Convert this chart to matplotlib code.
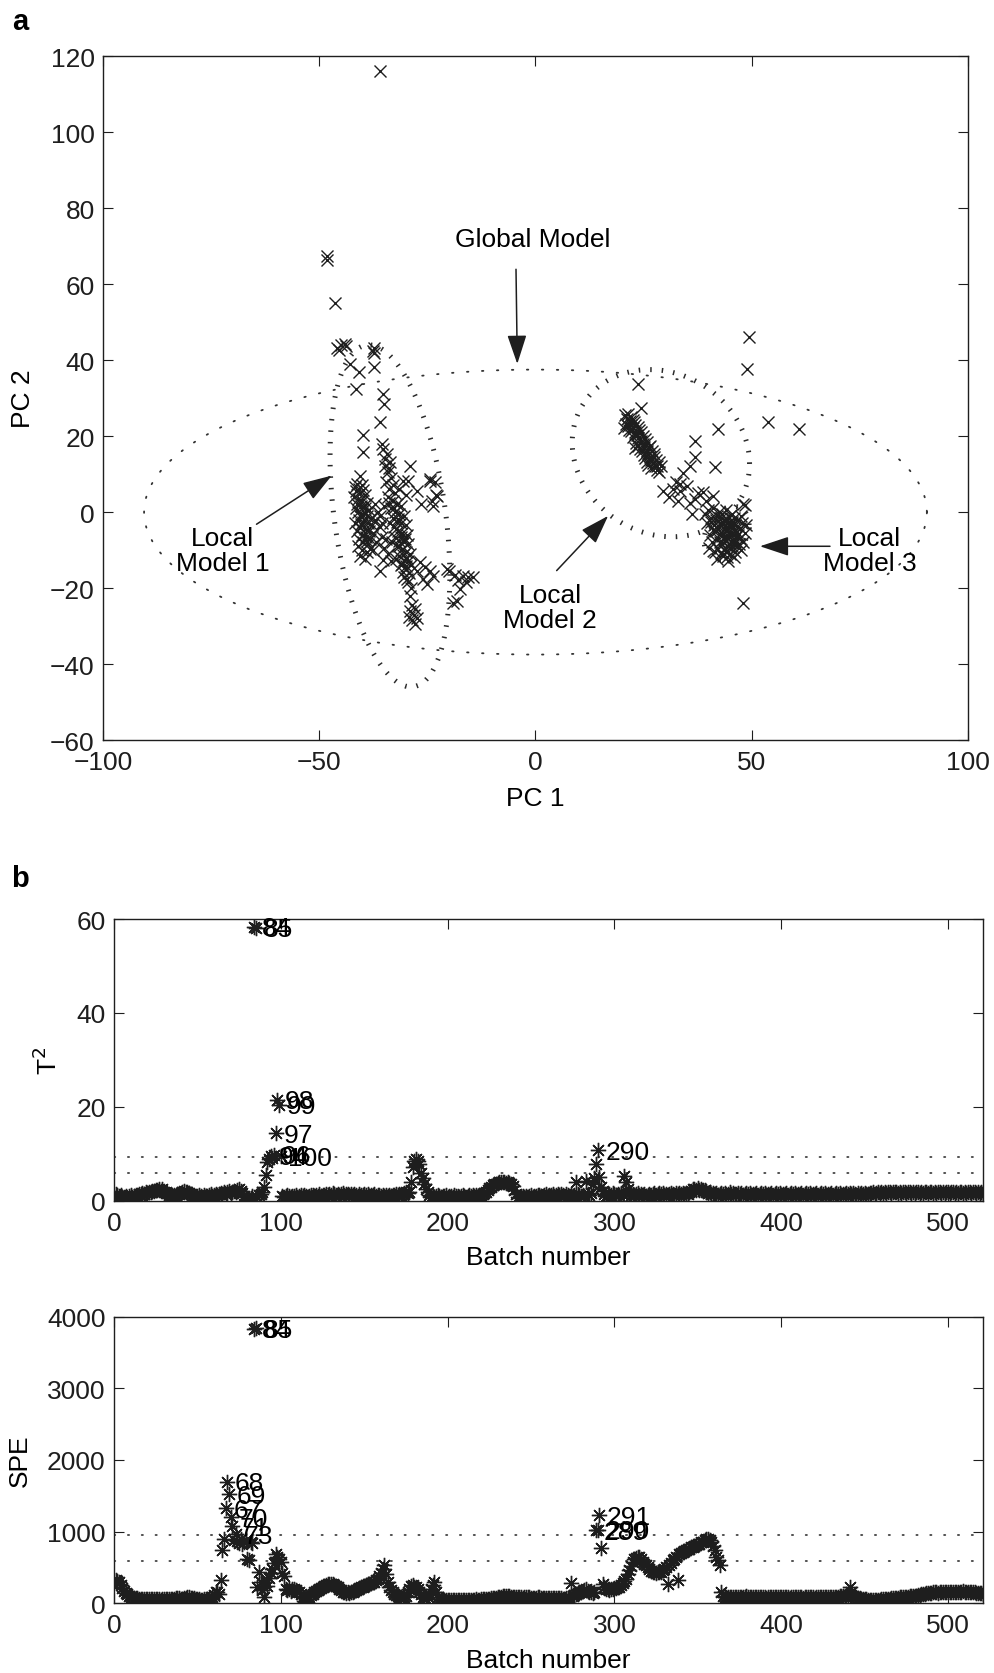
import numpy as np
import matplotlib
matplotlib.use('Agg')
import matplotlib.pyplot as plt

plt.rcParams['font.family'] = ['Liberation Sans', 'DejaVu Sans']
plt.rcParams['axes.unicode_minus'] = True

# ---- panel a: batch scores on PC1 / PC2 ----
outliers = [(-35.9, 116.1), (-48.3, 67.5), (-48.1, 66.3), (-46.4, 55.0),
            (-46.0, 43.3), (-44.9, 44.0), (-44.0, 44.2), (-43.7, 43.6), (-45.5, 42.6),
            (-37.5, 42.4), (-37.3, 43.3), (-37.4, 41.8), (-42.9, 39.0), (-40.9, 36.8),
            (-37.3, 38.1), (-41.5, 32.5), (-35.3, 31.1), (-35.1, 28.4),
            (49.4, 46.0), (49.0, 37.6), (53.8, 23.6), (61.0, 21.8), (48.1, -23.8),
            (24.5, 27.5), (23.8, 33.7)]

cluster_1 = [(-35.9, 23.6), (-39.8, 20.3), (-39.8, 15.7), (-35.6, 17.9), (-35.2, 16.5),
             (-34.4, 15.3), (-33.6, 13.1), (-34.8, 14.0), (-33.9, 11.5), (-29.0, 12.2),
             (-29.4, 8.3), (-30.6, 8.1), (-24.4, 8.3), (-23.2, 7.8), (-22.8, 4.3),
             (-23.6, 1.7), (-24.0, 3.0), (-22.9, 4.6), (-24.4, 8.6), (-31.5, 6.0),
             (-30.0, 4.5), (-27.5, 5.5), (-26.5, 2.0),
             # left column
             (-40.6, 9.6), (-41.2, 7.5), (-40.0, 7.0), (-41.5, 5.5), (-40.5, 5.0),
             (-39.5, 4.5), (-41.0, 3.5), (-40.0, 3.0), (-39.0, 2.5), (-41.3, 2.0),
             (-40.4, 1.5), (-39.3, 1.0), (-38.5, 0.5), (-41.0, 0.0), (-40.0, -0.5),
             (-39.0, -1.0), (-38.0, -1.5), (-40.8, -2.0), (-39.8, -2.5), (-38.8, -3.0),
             (-37.8, -3.5), (-40.5, -4.0), (-39.5, -4.5), (-38.5, -5.0), (-37.5, -5.5),
             (-40.2, -6.0), (-39.2, -6.5), (-38.2, -7.0), (-39.8, -8.0), (-38.8, -8.5),
             (-40.0, -10.0), (-39.0, -10.5), (-40.5, -11.5), (-39.5, -12.4), (-37.0, -2.0),
             (-36.5, 0.0), (-37.2, 2.0), (-36.0, -4.0), (-35.5, -6.5), (-36.8, -8.0),
             (-35.2, -12.6), (-35.9, -15.4), (-37.5, -10.0), (-42.0, 4.0), (-41.8, -3.0),
             (-41.8, 6.5), (-40.8, 6.0), (-39.8, 5.8), (-41.6, 1.0), (-40.6, -1.0),
             (-39.5, -0.2), (-41.3, -5.0), (-40.4, -3.2), (-39.3, -5.6), (-38.9, -7.6),
             (-40.9, -7.2), (-41.0, -9.0), (-38.3, -9.8),
             # right column
             (-34.8, 12.0), (-34.0, 10.5), (-33.5, 9.0), (-34.5, 8.0), (-33.0, 7.0),
             (-33.8, 6.0), (-32.5, 5.0), (-34.0, 4.0), (-33.0, 3.0), (-32.0, 2.0),
             (-31.0, 1.5), (-33.5, 1.0), (-32.5, 0.0), (-31.5, -0.5), (-30.5, -1.0),
             (-33.0, -1.5), (-32.0, -2.5), (-31.0, -3.0), (-30.0, -3.5), (-32.8, -4.0),
             (-31.8, -5.0), (-30.8, -5.5), (-29.8, -6.0), (-32.5, -6.5), (-31.5, -7.5),
             (-30.5, -8.0), (-29.5, -8.5), (-32.0, -9.0), (-31.0, -10.0), (-30.0, -10.5),
             (-29.0, -11.0), (-31.5, -11.5), (-30.5, -12.5), (-29.5, -13.0), (-31.0, -14.0),
             (-30.0, -15.0), (-29.2, -16.0), (-30.3, -17.0), (-29.5, -18.5), (-28.8, -20.0),
             (-29.0, -22.0), (-28.5, -24.5), (-27.8, -25.5), (-29.0, -26.0), (-28.2, -27.0),
             (-27.5, -28.0), (-28.6, -28.5), (-27.9, -29.5), (-29.3, -27.5),
             (-33.8, 2.3), (-32.8, 1.2), (-31.8, -1.8), (-33.6, -3.0), (-32.2, -4.5),
             (-31.2, -6.6), (-30.2, -7.2), (-33.2, -8.0), (-31.6, -9.0), (-30.6, -11.3),
             (-29.6, -12.0), (-32.2, -12.3), (-30.8, -13.6), (-29.9, -14.2), (-30.6, -15.8),
             (-29.8, -17.5), (-28.7, -13.8),
             # between the columns
             (-36.0, -1.0), (-35.0, 1.5), (-35.5, -3.0), (-34.5, -7.0), (-35.0, -9.5),
             (-33.5, -13.0), (-34.0, -11.0),
             # right arm
             (-26.7, -13.2), (-25.5, -14.5), (-24.5, -15.5), (-23.6, -16.7), (-27.5, -15.5),
             (-20.5, -15.0), (-19.9, -15.5), (-18.5, -16.5), (-16.8, -16.8), (-15.5, -17.0),
             (-14.4, -17.2), (-17.5, -20.3), (-18.2, -23.3), (-19.0, -23.8), (-18.0, -18.0),
             (-16.0, -18.5), (-25.0, -19.0), (-26.0, -17.5)]

cluster_2 = [(20.8, 25.5), (21.2, 24.6), (21.8, 24.0), (21.0, 23.2), (22.0, 22.8),
             (22.6, 22.0), (21.7, 21.5), (22.9, 21.0), (23.4, 20.2), (22.5, 19.8),
             (23.8, 19.5), (24.3, 18.7), (23.3, 18.2), (24.8, 18.0), (25.2, 17.0),
             (24.2, 16.6), (25.7, 16.2), (26.0, 15.4), (25.0, 15.0), (26.4, 14.6),
             (26.8, 13.8), (25.9, 13.3), (27.2, 12.8), (27.6, 12.0), (26.6, 11.6),
             (28.0, 11.2), (28.6, 10.5), (27.5, 14.5), (28.5, 13.2), (22.2, 25.0),
             (24.0, 21.5), (26.5, 17.5), (20.5, 22.0), (23.0, 16.8),
             (21.5, 25.8), (22.6, 24.2), (23.1, 23.0), (23.6, 22.3), (24.4, 21.0),
             (24.9, 20.0), (25.4, 19.2), (25.8, 18.4), (26.2, 17.0), (26.9, 16.0),
             (27.3, 15.2), (27.9, 13.8), (28.2, 12.2), (22.2, 21.3), (23.0, 20.5),
             (23.8, 17.4), (24.6, 16.2), (25.4, 14.2), (26.0, 12.5), (29.0, 12.0),
             (21.4, 22.6), (22.8, 23.6),
             (29.6, 5.6), (32.6, 7.8), (34.2, 10.4), (35.7, 12.2), (31.9, 6.1),
             (33.4, 7.4), (35.0, 6.9), (36.9, 3.4), (36.1, -0.5), (35.7, 2.5),
             (33.5, 5.5), (30.8, 4.0), (33.0, 3.0), (37.5, 5.0), (36.9, 14.4),
             (36.9, 18.8), (41.5, 11.8), (42.3, 21.8)]

cluster_3 = [(40.0, 0.5), (41.0, 1.0), (42.5, 0.0), (44.0, 0.5), (45.5, -0.5),
             (40.5, -1.5), (41.8, -2.0), (43.0, -1.5), (44.3, -2.0), (45.5, -2.5),
             (46.8, -2.0), (41.2, -3.5), (42.5, -3.8), (43.8, -3.3), (45.0, -4.0),
             (46.2, -3.5), (47.3, -4.2), (41.8, -5.0), (43.0, -5.5), (44.3, -5.0),
             (45.5, -5.8), (46.7, -5.2), (42.2, -6.8), (43.5, -7.0), (44.8, -6.5),
             (46.0, -7.2), (47.2, -6.8), (43.0, -8.5), (44.2, -8.8), (45.4, -8.2),
             (46.5, -9.0), (42.0, -9.5), (44.0, -10.2), (45.0, -11.0), (41.9, -12.4),
             (44.6, -12.8), (47.5, -10.0), (48.1, 2.1), (41.1, 4.3), (39.6, -3.0),
             (40.3, -6.0), (48.5, -5.5), (48.0, -8.0), (44.5, -3.0), (43.5, -4.5),
             (45.0, -6.0), (44.0, -7.5), (45.8, -4.5), (42.8, -2.8), (46.2, -8.0),
             (43.6, -10.0), (40.8, -8.0), (38.8, 5.2), (39.5, 2.8), (48.4, 1.9),
             (42.0, -1.0), (43.2, -0.5), (44.8, -1.2), (46.0, -1.5), (42.3, -4.5),
             (43.9, -6.2), (45.2, -7.5), (46.9, -6.0), (42.7, -7.8), (44.9, -9.5),
             (46.1, -10.5), (43.3, -11.5), (47.8, -2.8), (41.0, -4.8), (40.7, -2.5),
             (45.9, -11.8), (44.3, -11.8), (42.9, -10.8), (47.0, -8.5), (48.6, -3.5),
             (41.5, -10.5), (40.2, -9.5), (43.7, -2.2), (45.3, -3.2), (46.4, -6.3),
             (44.6, -4.2), (43.1, -6.3), (45.7, -9.2), (47.6, -1.0), (39.3, -0.5)]

# model ellipses: centre x, centre y, half width, half height, correlation
global_model = (0.0, 0.0, 90.5, 37.5, 0.0)
local_models = [(-33.65, -1.0, 13.85, 45.0, -0.35),
                (29.0, 15.5, 20.5, 22.0, -0.127),
                (44.2, -5.5, 5.2, 7.0, 0.3)]

# ---- panel b: monitoring statistics per batch ----
t2 = [1.5, 1.3, 1.0, 1.2, 0.8, 0.9, 1.1, 0.7, 1.0, 1.2, 0.9, 1.1, 1.3, 1.0, 1.4, 1.2, 1.6, 1.5, 1.8, 1.7,
      2.0, 1.9, 2.2, 2.1, 2.4, 2.3, 2.6, 2.2, 2.5, 2.0, 1.8, 1.6, 1.3, 1.1, 0.9, 1.2, 1.0, 1.4, 1.5, 1.7,
      1.9, 2.1, 1.8, 2.0, 1.6, 1.4, 1.1, 1.0, 0.8, 1.1, 1.2, 1.0, 0.9, 1.3, 1.1, 1.0, 1.2, 1.4, 1.1, 1.3,
      1.5, 1.2, 1.4, 1.6, 1.3, 1.8, 1.5, 1.9, 2.1, 1.7, 1.9, 2.2, 2.0, 2.4, 2.5, 2.1, 1.6, 1.0, 0.5, 0.2,
      0.4, 0.7, 1.0, 58.3, 58.1, 0.9, 1.2, 1.5, 2.0, 3.0, 5.5, 8.2, 9.0, 9.6, 9.2, 9.8, 14.4, 21.5, 20.5, 9.5,
      1.0, 0.9, 1.1, 1.2, 1.0, 0.8, 1.1, 1.0, 1.2, 0.9, 1.1, 1.3, 1.0, 1.2, 1.1, 0.9, 1.0, 1.2, 1.3, 1.1,
      1.2, 1.0, 1.4, 1.1, 1.3, 1.2, 1.5, 1.3, 1.4, 1.2, 1.6, 1.4, 1.3, 1.5, 1.2, 1.4, 1.6, 1.3, 1.5, 1.4,
      1.3, 1.5, 1.2, 1.4, 1.3, 1.1, 1.4, 1.2, 1.3, 1.5, 1.2, 1.4, 1.1, 1.3, 1.2, 1.4, 1.1, 1.3, 1.2, 1.0,
      1.2, 1.1, 1.3, 1.0, 1.2, 1.1, 1.3, 1.2, 1.4, 1.3, 1.5, 1.2, 1.4, 1.6, 1.9, 1.7, 2.0, 4.0, 7.2, 8.4,
      8.9, 8.5, 7.8, 6.0, 4.8, 3.6, 2.6, 1.9, 1.3, 0.8, 1.0, 0.9, 1.1, 1.2, 1.0, 0.8, 1.1, 1.0, 1.2, 0.9,
      1.1, 1.0, 0.9, 1.2, 1.0, 1.1, 0.8, 1.0, 1.2, 1.1, 0.9, 1.0, 1.2, 1.1, 1.3, 1.0, 1.2, 1.1, 1.3, 1.2,
      1.4, 1.6, 2.0, 2.4, 2.7, 3.0, 3.3, 3.5, 3.7, 3.9, 4.0, 4.1, 4.0, 4.1, 3.9, 4.0, 3.8, 3.6, 3.2, 2.4,
      1.4, 0.8, 0.6, 0.9, 1.0, 0.8, 1.1, 0.9, 1.0, 1.2, 0.9, 1.1, 1.0, 1.2, 1.3, 1.1, 1.0, 1.2, 1.4, 1.1,
      1.3, 1.2, 1.4, 1.1, 1.3, 1.5, 1.2, 1.4, 1.3, 1.1, 1.4, 1.2, 1.0, 1.3, 1.1, 1.2, 4.0, 1.5, 1.2, 1.0,
      1.3, 1.1, 4.3, 1.4, 1.2, 1.6, 3.5, 4.8, 7.8, 10.8, 5.1, 3.0, 2.2, 1.4, 1.0, 1.2, 1.5, 1.3, 1.6, 1.4,
      1.2, 1.5, 1.3, 1.7, 1.4, 5.4, 4.0, 2.5, 1.6, 1.3, 1.5, 1.2, 1.4, 1.6, 1.3, 1.5, 1.2, 1.4, 1.1, 1.3,
      1.5, 1.2, 1.4, 1.6, 1.3, 1.5, 1.7, 1.4, 1.6, 1.3, 1.5, 1.2, 1.4, 1.6, 1.5, 1.3, 1.6, 1.4, 1.7, 1.5,
      1.6, 1.4, 1.7, 1.5, 1.9, 2.2, 2.5, 2.6, 2.4, 2.7, 2.3, 2.5, 2.1, 2.3, 1.9, 1.6, 2.0, 1.4, 1.7, 1.5,
      1.6, 1.3, 1.5, 1.7, 1.4, 1.6, 1.3, 1.5, 1.8, 1.4, 1.6, 1.3, 1.5, 1.7, 1.4, 1.6, 1.3, 1.5, 1.7, 1.4,
      1.6, 1.3, 1.5, 1.4, 1.6, 1.3, 1.5, 1.7, 1.4, 1.6, 1.3, 1.5, 1.4, 1.6, 1.3, 1.5, 1.7, 1.4, 1.6, 1.3,
      1.5, 1.4, 1.6, 1.3, 1.5, 1.7, 1.4, 1.6, 1.3, 1.5, 1.4, 1.6, 1.3, 1.5, 1.7, 1.4, 1.6, 1.3, 1.5, 1.4,
      1.6, 1.3, 1.5, 1.7, 1.4, 1.6, 1.3, 1.5, 1.4, 1.6, 1.3, 1.5, 1.7, 1.4, 1.6, 1.3, 1.5, 1.4, 1.6, 1.5,
      1.7, 1.4, 1.6, 1.5, 1.3, 1.6, 1.4, 1.7, 1.5, 1.6, 1.4, 1.5, 1.7, 1.6, 1.8, 1.5, 1.7, 1.9, 1.6, 1.8,
      1.7, 1.9, 1.6, 1.8, 2.0, 1.7, 1.9, 1.8, 2.0, 1.7, 1.9, 1.6, 1.8, 2.0, 1.7, 1.9, 1.8, 1.6, 1.9, 1.7,
      1.8, 2.0, 1.7, 1.9, 1.6, 1.8, 2.0, 1.7, 1.9, 1.8, 1.6, 1.9, 1.7, 1.8, 2.0, 1.7, 1.9, 1.6, 1.8, 2.0,
      1.7, 1.9, 1.8, 1.6, 1.9, 1.7, 1.8, 2.0, 1.7, 1.9, 1.6, 1.8, 2.0, 1.7, 1.9, 1.8, 1.6, 1.9, 1.7, 1.8,
      1.6]

spe = [320, 310, 290, 250, 210, 170, 140, 120, 100, 90, 80, 75, 70, 65, 60, 62, 58, 55, 60, 57,
       55, 52, 50, 55, 58, 52, 50, 48, 55, 60, 58, 52, 50, 55, 60, 62, 65, 70, 68, 62,
       60, 65, 72, 78, 80, 75, 70, 65, 60, 55, 50, 48, 45, 50, 55, 60, 58, 62, 80, 110,
       150, 160, 130, 317, 740, 900, 1323, 1697, 1519, 1200, 1070, 880, 960, 870, 840, 900, 820, 860, 880, 620,
       600, 860, 840, 3830, 3840, 230, 440, 300, 180, 90, 300, 240, 350, 420, 480, 560, 690, 650, 620, 580,
       420, 380, 200, 180, 190, 170, 200, 190, 180, 160, 150, 120, 80, 30, 20, 60, 90, 110, 130, 150,
       170, 180, 200, 210, 230, 240, 250, 260, 270, 265, 260, 250, 240, 220, 200, 180, 160, 150, 140, 150,
       140, 150, 160, 170, 180, 200, 210, 220, 230, 240, 250, 260, 270, 280, 290, 300, 320, 340, 380, 420,
       480, 530, 400, 300, 220, 180, 150, 130, 110, 100, 90, 85, 80, 90, 100, 150, 200, 240, 250, 230,
       220, 200, 160, 120, 90, 70, 60, 80, 120, 200, 250, 290, 150, 80, 60, 50, 45, 40, 42, 45,
       40, 42, 45, 38, 40, 43, 45, 40, 38, 42, 45, 48, 44, 40, 42, 45, 50, 48, 46, 50,
       52, 55, 60, 58, 62, 65, 70, 72, 75, 80, 85, 90, 95, 100, 105, 100, 95, 90, 85, 80,
       82, 85, 80, 78, 75, 80, 85, 82, 78, 75, 72, 70, 75, 80, 78, 75, 72, 70, 68, 72,
       75, 70, 68, 65, 70, 72, 68, 65, 62, 60, 65, 70, 80, 285, 100, 110, 120, 140, 150, 160,
       170, 180, 190, 175, 160, 150, 140, 150, 1018, 1025, 1229, 771, 270, 220, 200, 190, 180, 190, 200, 210,
       210, 220, 230, 250, 280, 310, 340, 400, 460, 520, 580, 610, 630, 645, 650, 620, 580, 550, 527, 500,
       470, 450, 437, 430, 425, 430, 435, 440, 460, 480, 500, 270, 527, 560, 600, 620, 650, 317, 690, 700,
       715, 730, 740, 750, 760, 780, 790, 800, 810, 820, 830, 850, 860, 880, 890, 900, 880, 850, 800, 740,
       650, 600, 527, 155, 100, 90, 85, 80, 82, 85, 88, 90, 85, 80, 82, 85, 88, 90, 92, 88,
       85, 82, 80, 78, 82, 85, 88, 84, 80, 78, 76, 80, 84, 86, 82, 80, 78, 82, 85, 88,
       86, 82, 80, 78, 76, 80, 82, 85, 88, 84, 80, 78, 75, 78, 82, 85, 82, 80, 78, 76,
       78, 80, 82, 85, 88, 90, 88, 85, 82, 80, 78, 80, 84, 88, 92, 95, 98, 100, 105, 110,
       224, 150, 100, 90, 80, 70, 65, 60, 55, 52, 50, 48, 45, 44, 42, 40, 42, 45, 48, 50,
       52, 55, 58, 60, 62, 65, 68, 70, 72, 75, 78, 80, 82, 85, 88, 90, 92, 95, 98, 100,
       105, 110, 115, 120, 125, 130, 135, 140, 142, 145, 148, 150, 148, 146, 150, 152, 155, 150, 148, 152,
       155, 158, 160, 156, 152, 155, 158, 160, 162, 158, 155, 150, 152, 155, 150, 148, 145, 140, 138, 135,
       130]

t2_limits = [9.3, 6.0]
spe_limits = [952, 590]

batches = np.arange(1, len(t2) + 1)

INK = '#1e1e1e'
FS = 19


def style_axes(ax, xpad=7):
    ax.tick_params(direction='in', length=7, width=0.8, top=True, right=True,
                   labelsize=FS, colors=INK)
    ax.tick_params(axis='x', pad=xpad)
    ax.tick_params(axis='y', pad=6)
    for s in ax.spines.values():
        s.set_linewidth(1.0)
        s.set_color(INK)


def ellipse_xy(cx, cy, wx, wy, rho):
    t = np.linspace(0, 2 * np.pi, 500)
    x = cx + wx * np.cos(t)
    y = cy + wy * (rho * np.cos(t) + np.sqrt(1 - rho ** 2) * np.sin(t))
    return x, y


fig = plt.figure(figsize=(9.94, 16.74), dpi=100)

# ---------------- panel a ----------------
ax = fig.add_axes([0.1036, 0.5573, 0.8702, 0.4086])
gx, gy = ellipse_xy(*global_model)
ax.plot(gx, gy, color='#333333', lw=1.3, linestyle=(0, (0.8, 7.5)), dash_capstyle='round')
for m in local_models:
    lx, ly = ellipse_xy(*m)
    ax.plot(lx, ly, color='#2a2a2a', lw=3.6, linestyle=(0, (0.3, 2.0)), dash_capstyle='butt')

for pts in (outliers, cluster_1, cluster_2, cluster_3):
    xs, ys = zip(*pts)
    ax.plot(xs, ys, linestyle='none', marker='x', ms=8, mew=1.0, color=INK, zorder=3)

arrow = dict(arrowstyle='-|>,head_length=0.9,head_width=0.3', color=INK, lw=1.1,
             mutation_scale=20, shrinkA=0, shrinkB=0)
ax.text(-0.6, 71.8, 'Global Model', fontsize=FS, ha='center', va='center', color='k')
ax.annotate('', xy=(-4.2, 39.0), xytext=(-4.5, 63.9), arrowprops=arrow)
ax.text(-72.4, -10.0, 'Local\nModel 1', fontsize=FS, ha='center', va='center',
        linespacing=1.05, color='k')
ax.annotate('', xy=(-47.1, 9.6), xytext=(-64.5, -3.2), arrowprops=arrow)
ax.text(3.35, -25.0, 'Local\nModel 2', fontsize=FS, ha='center', va='center',
        linespacing=1.05, color='k')
ax.annotate('', xy=(16.8, -1.0), xytext=(4.9, -15.4), arrowprops=arrow)
ax.text(77.3, -10.0, 'Local\nModel 3', fontsize=FS, ha='center', va='center',
        linespacing=1.05, color='k')
ax.annotate('', xy=(51.9, -9.0), xytext=(68.1, -9.0), arrowprops=arrow)

ax.set_xlim(-100, 100)
ax.set_ylim(-60, 120)
ax.set_xticks([-100, -50, 0, 50, 100])
ax.set_yticks(np.arange(-60, 121, 20))
style_axes(ax)
ax.set_xlabel('PC 1', fontsize=FS, va='center')
ax.xaxis.set_label_coords(0.5, -0.0848)
ax.set_ylabel('PC 2', fontsize=FS, va='center')
ax.yaxis.set_label_coords(-0.092, 0.5)

fig.text(12 / 994, 1 - 30 / 1674, 'a', fontsize=21, fontweight='bold', ha='left', va='baseline')
fig.text(11 / 994, 1 - 887 / 1674, 'b', fontsize=21, fontweight='bold', ha='left', va='baseline')

# ---------------- panel b ----------------
asterisk = (8, 2, 0)


def stat_panel(rect, values, limits, ylim, yticks, ylabel, ylabel_x):
    axb = fig.add_axes(rect)
    for lim in limits:
        axb.axhline(lim, color='#333333', lw=1.2, linestyle=(0, (0.8, 7.5)),
                    dash_capstyle='round')
    axb.plot(batches, values, linestyle='none', marker=asterisk, ms=11, mew=1.0,
             color=INK, zorder=3)
    for b, v in zip(batches, values):
        if v > limits[0]:
            axb.annotate(str(b), (b, v), xytext=(5.5, -1), textcoords='offset points',
                         ha='left', va='center', fontsize=FS, zorder=4)
    axb.set_xlim(0, len(values))
    axb.set_ylim(*ylim)
    axb.set_xticks(np.arange(0, 501, 100))
    axb.set_yticks(yticks)
    style_axes(axb)
    axb.set_xlabel('Batch number', fontsize=FS, va='center')
    axb.xaxis.set_label_coords(0.5, -0.20)
    axb.set_ylabel(ylabel, fontsize=FS, va='center')
    axb.yaxis.set_label_coords(ylabel_x, 0.5)
    return axb


stat_panel([0.1147, 0.2820, 0.8743, 0.1684], t2, t2_limits, (0, 60), [0, 20, 40, 60],
           'T$^2$', -0.076)
stat_panel([0.1147, 0.0418, 0.8743, 0.1709], spe, spe_limits, (0, 4000),
           [0, 1000, 2000, 3000, 4000], 'SPE', -0.108)

fig.savefig('out.png', dpi=100)
